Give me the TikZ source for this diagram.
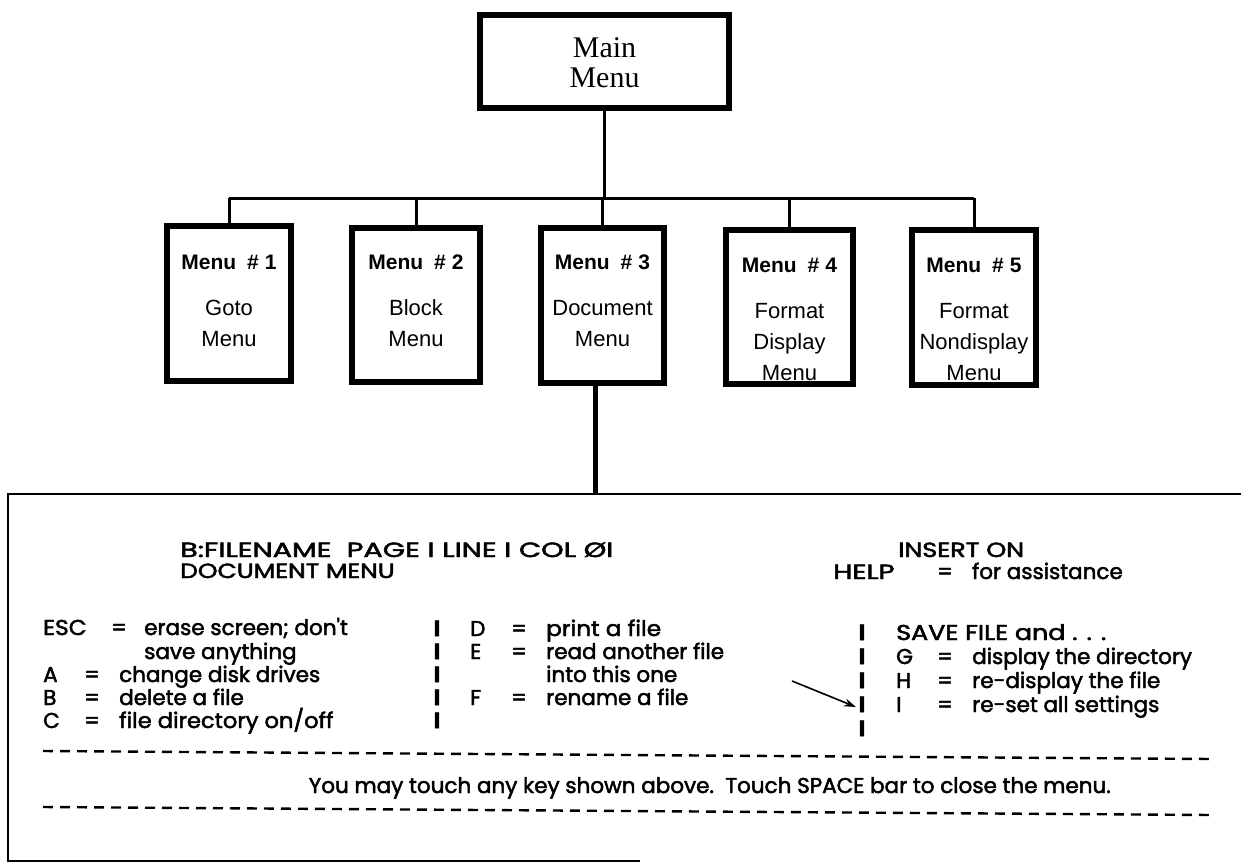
\documentclass[tikz,border=0pt]{standalone}
\usepackage{fontspec}
\usepackage{graphicx}
\setmainfont{Liberation Serif}
\newfontfamily\boxfont{Liberation Sans}
\newfontfamily\panelfont{Poppins}[FakeBold=2.2]
\newcommand{\widetxt}[2]{\scalebox{#1}[1]{#2}}
\usetikzlibrary{arrows.meta,calc}
\begin{document}
\begin{tikzpicture}[x=1pt,y=-1pt,
  menubox/.style={draw, line width=6pt, inner sep=0pt, fill=white},
  conn/.style={line width=3pt},
  mtxt/.style={font=\fontsize{30}{30}\selectfont, inner sep=0pt, anchor=base},
  btxt/.style={font=\boxfont\fontsize{22}{24}\selectfont, inner sep=0pt, anchor=base},
  btitle/.style={font=\boxfont\bfseries\fontsize{21}{24}\selectfont, inner sep=0pt, anchor=base},
  ptxt/.style={font=\panelfont\fontsize{21.5}{24}\selectfont, inner sep=0pt, anchor=base west},
  pctr/.style={font=\panelfont\fontsize{21.5}{24}\selectfont, inner sep=0pt, anchor=base},
  psep/.style={font=\panelfont\bfseries\fontsize{22}{24}\selectfont, inner sep=0pt, anchor=base},
  phead/.style={font=\panelfont\fontsize{20.5}{22}\selectfont, inner sep=0pt, anchor=base west},
  dashline/.style={line width=2.4pt, dash pattern=on 10pt off 7pt},
  panelline/.style={line width=2.5pt}
]
\useasboundingbox (0,0) rectangle (1241,864);

% main box
\node[menubox, minimum width=249pt, minimum height=93pt] (main) at (604.5,61.5) {};
\node[mtxt] (mainA) at (604.5,58) {Main};
\node[mtxt] (mainB) at (604.5,88) {Menu};

% menu boxes
\node[menubox, minimum width=124pt, minimum height=155pt] (m1) at (229,303.5) {};
\node[menubox, minimum width=128pt, minimum height=154pt] (m2) at (416,305) {};
\node[menubox, minimum width=123pt, minimum height=155pt] (m3) at (602.5,305.5) {};
\node[menubox, minimum width=127pt, minimum height=154pt] (m4) at (789.5,307) {};
\node[menubox, minimum width=124pt, minimum height=155pt] (m5) at (974,307.5) {};

% connectors
\coordinate (bus) at (228,198);
\draw[conn] (main.south) -- (main.south |- bus);
\draw[conn] (m1.north |- bus) -- (m5.north |- bus);
\foreach \m in {m1,m2,m3,m4,m5}{\draw[conn] (\m.north) -- (\m.north |- bus);}

% box texts
\node[btitle] (t1) at (229,269) {Menu\hspace{11pt}\#\hspace{6pt}1};
\node[btxt] (t1a) at (229,315) {Goto};
\node[btxt] (t1b) at (229,346) {Menu};
\node[btitle] (t2) at (416,269) {Menu\hspace{11pt}\#\hspace{6pt}2};
\node[btxt] (t2a) at (416,315) {Block};
\node[btxt] (t2b) at (416,346) {Menu};
\node[btitle] (t3) at (602.5,269) {Menu\hspace{11pt}\#\hspace{6pt}3};
\node[btxt] (t3a) at (602.5,315) {Document};
\node[btxt] (t3b) at (602.5,346) {Menu};
\node[btitle] (t4) at (789.5,272) {Menu\hspace{11pt}\#\hspace{6pt}4};
\node[btxt] (t4a) at (789.5,318) {Format};
\node[btxt] (t4b) at (789.5,349) {Display};
\node[btxt] (t4c) at (789.5,380) {Menu};
\node[btitle] (t5) at (974,272) {Menu\hspace{11pt}\#\hspace{6pt}5};
\node[btxt] (t5a) at (974,318) {Format};
\node[btxt] (t5b) at (974,349) {Nondisplay};
\node[btxt] (t5c) at (974,380) {Menu};

% panel
\coordinate (pTL) at (8,494);
\coordinate (pTR) at (1241,494);
\coordinate (pBL) at (8,861);
\coordinate (pBR) at (640,861);
\draw[line width=5pt] ([xshift=-7pt]m3.south) -- ([xshift=-7pt]m3.south |- pTL);
\draw[panelline] (pTR) -- (pTL) -- (pBL) -- (pBR);

% header texts
\node[phead] (h1) at (180,557) {\widetxt{1.4}{B:FILENAME\ \ PAGE I LINE I COL ØI}};
\node[phead] (h2) at (180,578) {\widetxt{1.22}{DOCUMENT MENU}};
\node[phead] (h3) at (898,557) {\widetxt{1.24}{INSERT ON}};
\node[phead] (h4) at (833,579) {\widetxt{1.35}{HELP}};
\node[ptxt] (h5) at (937,579) {=};
\node[ptxt] (h6) at (972,579) {for assistance};

% left column
\node[ptxt] (l1) at (43,635) {\widetxt{1.08}{ESC}};
\node[ptxt] (l1e) at (111,635) {=};
\node[ptxt] (l1t) at (144,635) {erase screen; don't};
\node[ptxt] (l2t) at (144,659) {save anything};
\node[ptxt] (l3) at (43,682) {A};
\node[ptxt] (l3e) at (84,682) {=};
\node[ptxt] (l3t) at (119,682) {change disk drives};
\node[ptxt] (l4) at (43,705) {B};
\node[ptxt] (l4e) at (84,705) {=};
\node[ptxt] (l4t) at (119,705) {delete a file};
\node[ptxt] (l5) at (43,728) {C};
\node[ptxt] (l5e) at (84,728) {=};
\node[ptxt] (l5t) at (119,728) {\widetxt{1.05}{file directory on/off}};

% middle separators
\foreach \y/\n in {636/a,659/b,682/c,705/d,728/e}{\node[psep] (s\n) at (437,\y) {I};}
\node[ptxt] (d1) at (470,636) {D};
\node[ptxt] (d1e) at (511,636) {=};
\node[ptxt] (d1t) at (546,636) {\widetxt{1.08}{print a file}};
\node[ptxt] (d2) at (470,659) {E};
\node[ptxt] (d2e) at (511,659) {=};
\node[ptxt] (d2t) at (546,659) {read another file};
\node[ptxt] (d3t) at (546,682) {into this one};
\node[ptxt] (d4) at (470,705) {F};
\node[ptxt] (d4e) at (511,705) {=};
\node[ptxt] (d4t) at (546,705) {rename a file};

% right separators
\foreach \y/\n in {640/a,664/b,688/c,712/d,736/e}{\node[psep] (r\n) at (862,\y) {I};}
\node[ptxt] (g0) at (896,640) {\widetxt{1.18}{SAVE FILE and . . .}};
\node[ptxt] (g1) at (896,664) {G};
\node[ptxt] (g1e) at (937,664) {=};
\node[ptxt] (g1t) at (972,664) {display the directory};
\node[ptxt] (g2) at (896,688) {H};
\node[ptxt] (g2e) at (937,688) {=};
\node[ptxt] (g2t) at (972,688) {re-display the file};
\node[ptxt] (g3) at (896,712) {I};
\node[ptxt] (g3e) at (937,712) {=};
\node[ptxt] (g3t) at (972,712) {re-set all settings};

% arrow
\coordinate (arA) at (792,681);
\coordinate (arB) at (856,707);
\draw[line width=1.6pt, -{Stealth[length=12pt,width=8pt]}] (arA) -- (arB);

% dashed lines and footer
\coordinate (dA1) at (43,751);
\coordinate (dA2) at (1212,759);
\coordinate (dB1) at (43,807);
\coordinate (dB2) at (1212,815);
\draw[dashline] (dA1) -- (dA2);
\draw[dashline] (dB1) -- (dB2);
\node[pctr, anchor=base east] (foot) at (1111,793) {You may touch any key shown above.\ \ Touch SPACE bar to close the menu.};
\end{tikzpicture}
\end{document}
